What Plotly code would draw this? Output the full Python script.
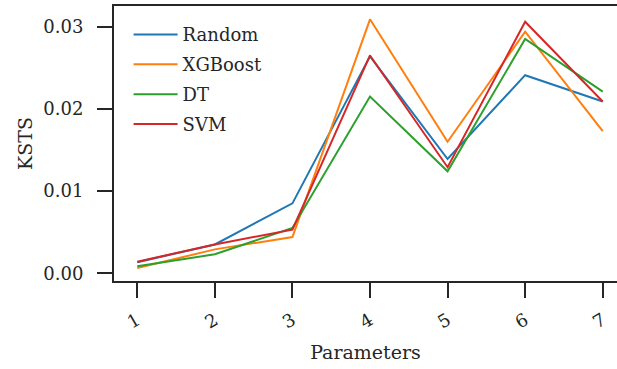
import plotly.graph_objects as go

# Parameter index on the x axis
params = [1, 2, 3, 4, 5, 6, 7]
tick_labels = ["1", "2", "3", "4", "5", "6", "7"]

# KSTS per model
ksts_random = [0.00134, 0.0035, 0.0085, 0.0264, 0.0139, 0.0241, 0.0209]
ksts_xgboost = [0.00063, 0.0029, 0.0044, 0.0309, 0.0160, 0.0294, 0.0173]
ksts_dt = [0.00085, 0.0023, 0.0055, 0.0215, 0.0124, 0.0285, 0.0221]
ksts_svm = [0.00140, 0.0035, 0.0053, 0.0265, 0.0129, 0.0306, 0.0209]

series = [
    ("Random", ksts_random, "#1f77b4"),
    ("XGBoost", ksts_xgboost, "#ff7f0e"),
    ("DT", ksts_dt, "#2ca02c"),
    ("SVM", ksts_svm, "#d62728"),
]

FONT = "DejaVu Serif"
INK = "#262626"

fig = go.Figure()
for name, vals, color in series:
    fig.add_trace(go.Scatter(
        x=params, y=vals, name=name, mode="lines", legendgroup=name,
        line=dict(color=color, width=2),
    ))

fig.update_layout(
    width=617, height=369,
    margin=dict(l=114, r=0, t=6, b=88),
    paper_bgcolor="white", plot_bgcolor="white",
    font=dict(family=FONT, size=18, color=INK),
    showlegend=True,
    legend=dict(
        x=0.029, y=0.963, xanchor="left", yanchor="top",
        bgcolor="rgba(0,0,0,0)", borderwidth=0,
        font=dict(family=FONT, size=18, color=INK),
        itemwidth=44, tracegroupgap=3.5,
    ),
)

fig.update_xaxes(
    range=[0.7, 7.184],
    tickmode="array", tickvals=params, ticktext=tick_labels,
    tickangle=-30,
    ticks="outside", ticklen=15, tickwidth=2, tickcolor=INK,
    ticklabelstandoff=5,
    showline=True, linewidth=2, linecolor=INK, mirror=True,
    showgrid=False, zeroline=False,
    tickfont=dict(family=FONT, size=18, color=INK),
    title=dict(text="Parameters", font=dict(family=FONT, size=19, color=INK), standoff=14),
)

fig.update_yaxes(
    range=[-0.00095, 0.03252],
    tickmode="array", tickvals=[0.0, 0.01, 0.02, 0.03],
    ticktext=["0.00", "0.01", "0.02", "0.03"],
    ticks="outside", ticklen=15, tickwidth=2, tickcolor=INK,
    ticklabelstandoff=10,
    showline=True, linewidth=2, linecolor=INK, mirror=False,
    showgrid=False, zeroline=False,
    tickfont=dict(family=FONT, size=18, color=INK),
    title=dict(text="KSTS", font=dict(family=FONT, size=19, color=INK), standoff=6),
)

fig.write_html("out.html")
